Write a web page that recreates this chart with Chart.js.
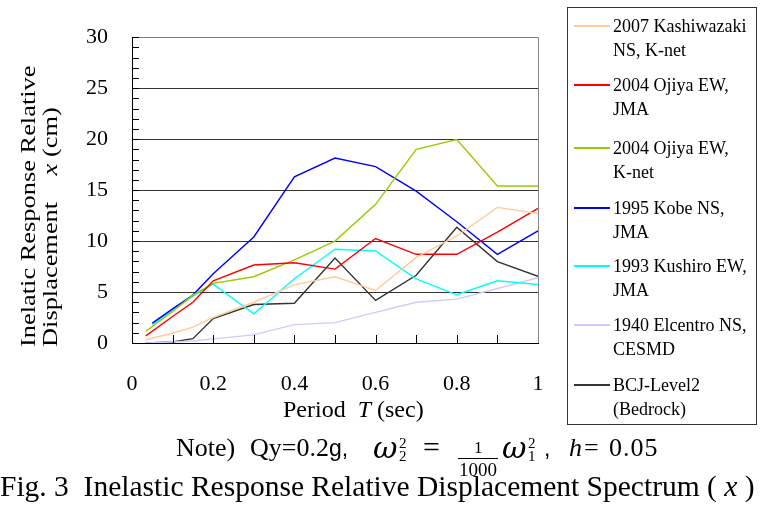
<!DOCTYPE html>
<html>
<head>
<meta charset="utf-8">
<script src="https://cdn.jsdelivr.net/npm/chart.js@4.4.0/dist/chart.umd.min.js"></script>
<style>
  body { margin: 0; background: #fff; font-family: "Liberation Serif", "Times New Roman", serif; color: #000; }
  #wrap { position: relative; width: 762px; height: 507px; overflow: hidden; }
  #chartBox { position: absolute; left: 0; top: 0; width: 762px; height: 507px; }
  #legend { position: absolute; left: 567px; top: 7px; width: 190px; height: 418px; border: 1px solid #333; box-sizing: border-box; }
  .item { position: absolute; left: 0; width: 190px; }
  .item .swatch { position: absolute; left: 6px; width: 36px; height: 1.5px; }
  .item .txt { position: absolute; left: 45px; font-size: 18px; line-height: 24px; white-space: nowrap; }
  #ytitle { position: absolute; left: 17px; top: 347px; width: 320px; font-size: 22px; line-height: 22px;
            transform-origin: 0 0; transform: rotate(-90deg) scale(1.2, 1); white-space: pre; }
  #xtitle { position: absolute; left: 283px; top: 397px; font-size: 24px; line-height: 1; white-space: pre; }
  .p { position: absolute; line-height: 1; white-space: pre; }
  .sans { font-family: "Liberation Sans", Arial, sans-serif; }
  .omega { font-family: "DejaVu Serif", serif; font-style: italic; }
  #bar { position: absolute; left: 458px; top: 458px; width: 40px; height: 1px; background: #000; }
  #fig { position: absolute; left: 0; top: 472px; font-size: 29.5px; line-height: 1; white-space: pre; }
</style>
</head>
<body>
<div id="wrap">
  <div id="chartBox"><canvas id="spectrumChart"></canvas></div>
  <div id="ytitle">Inelatic Response Relative
Displacement    <i>x</i> (cm)</div>
  <div id="xtitle">Period  <i>T</i> (sec)</div>
  <div id="legend"></div>

  <!-- Note) Qy=0.2g, w2^2 = 1/1000 w1^2, h=0.05 -->
  <span class="p" style="left:176px;top:435px;font-size:26px">Note)</span>
  <span class="p" style="left:250px;top:435px;font-size:26px">Qy=0.2<span class="sans" style="font-size:23px">g,</span></span>
  <span class="p omega" style="left:373px;top:433px;font-size:30px">ω</span>
  <span class="p" style="left:399px;top:436px;font-size:15px">2</span>
  <span class="p" style="left:399px;top:449px;font-size:15px">2</span>
  <span class="p" style="left:423px;top:432px;font-size:30px">=</span>
  <span class="p" style="left:474px;top:439px;font-size:17px">1</span>
  <div id="bar"></div>
  <span class="p" style="left:459px;top:460px;font-size:19px">1000</span>
  <span class="p omega" style="left:502px;top:433px;font-size:30px">ω</span>
  <span class="p" style="left:528px;top:436px;font-size:15px">2</span>
  <span class="p" style="left:528px;top:449px;font-size:15px">1</span>
  <span class="p sans" style="left:544px;top:437px;font-size:23px">,</span>
  <span class="p" style="left:569px;top:435px;font-size:26px"><i>h</i></span>
  <span class="p" style="left:584px;top:435px;font-size:26px">=</span>
  <span class="p" style="left:609px;top:435px;font-size:26px;letter-spacing:1px">0.05</span>

  <div id="fig">Fig. 3  Inelastic Response Relative Displacement Spectrum ( <i>x</i> )</div>
</div>

<script>
// periods (sec) - most records start at 0.034, Kobe / Kushiro at 0.05
const periodsA = [0.034, 0.1, 0.15, 0.2, 0.3, 0.4, 0.5, 0.6, 0.7, 0.8, 0.9, 1.0];
const periodsB = [0.05, 0.1, 0.15, 0.2, 0.3, 0.4, 0.5, 0.6, 0.7, 0.8, 0.9, 1.0];

// displacement (cm)
const kashiwazaki = [0.32, 0.96, 1.55, 2.5, 4.0, 5.7, 6.5, 5.15, 8.4, 10.5, 13.3, 12.7];
const ojiyaJMA    = [0.7, 2.6, 4.0, 6.1, 7.65, 7.87, 7.25, 10.25, 8.7, 8.7, 10.87, 13.2];
const ojiyaKnet   = [1.15, 3.1, 4.7, 5.85, 6.5, 8.15, 10.0, 13.6, 19.0, 19.95, 15.4, 15.4];
const kobe        = [1.95, 3.35, 4.7, 6.8, 10.4, 16.3, 18.15, 17.3, 14.9, 11.9, 8.7, 11.0];
const kushiro     = [1.8, 3.2, 4.6, 5.78, 2.87, 6.3, 9.2, 9.03, 6.3, 4.73, 6.1, 5.74];
const elcentro    = [0, 0.1, 0.2, 0.4, 0.8, 1.8, 2.0, 3.0, 4.0, 4.3, 5.35, 6.4];
const bcjLevel2   = [0, 0.1, 0.42, 2.4, 3.77, 3.9, 8.33, 4.18, 6.64, 11.36, 7.98, 6.54];

const xTicks = [0, 0.2, 0.4, 0.6, 0.8, 1];
const yTicks = [0, 5, 10, 15, 20, 25, 30];

const series = [
  { label: ["2007 Kashiwazaki", "NS, K-net"], x: periodsA, y: kashiwazaki, color: "#ffcc99", top: 13 },
  { label: ["2004 Ojiya EW,", "JMA"], x: periodsA, y: ojiyaJMA, color: "#ff0000", top: 72 },
  { label: ["2004 Ojiya EW,", "K-net"], x: periodsA, y: ojiyaKnet, color: "#99cc00", top: 135 },
  { label: ["1995 Kobe NS,", "JMA"], x: periodsB, y: kobe, color: "#0000ff", top: 195 },
  { label: ["1993 Kushiro EW,", "JMA"], x: periodsB, y: kushiro, color: "#00ffff", top: 253 },
  { label: ["1940   Elcentro NS,", "CESMD"], x: periodsA, y: elcentro, color: "#ccccff", top: 312 },
  { label: ["BCJ-Level2", "(Bedrock)"], x: periodsA, y: bcjLevel2, color: "#333333", top: 372 }
];

// legend box (html so the two-line labels sit like the original)
const legend = document.getElementById("legend");
series.forEach(s => {
  const item = document.createElement("div");
  item.className = "item";
  item.style.top = (s.top - 7) + "px";
  item.innerHTML = '<div class="swatch" style="top:11px;background:' + s.color + '"></div>' +
                   '<div class="txt">' + s.label[0] + '<br>' + s.label[1] + '</div>';
  legend.appendChild(item);
});

// inside tick marks + gray right border
const tickMarks = {
  id: "tickMarks",
  afterDraw(chart) {
    const ctx = chart.ctx;
    const a = chart.chartArea;
    const xs = chart.scales.x, ys = chart.scales.y;
    ctx.save();
    ctx.strokeStyle = "#000";
    ctx.lineWidth = 1;
    ctx.beginPath();
    for (let v = 0; v <= 30; v++) {
      const py = Math.round(ys.getPixelForValue(v)) + 0.5;
      ctx.moveTo(a.left, py);
      ctx.lineTo(a.left + 7, py);
    }
    for (let i = 1; i < 10; i++) {
      const px = Math.round(xs.getPixelForValue(i / 10)) + 0.5;
      ctx.moveTo(px, a.bottom);
      ctx.lineTo(px, a.bottom - 8);
    }
    ctx.stroke();
    ctx.strokeStyle = "#888";
    ctx.beginPath();
    ctx.moveTo(a.right + 0.5, a.top);
    ctx.lineTo(a.right + 0.5, a.bottom);
    ctx.stroke();
    ctx.restore();
  }
};

const ctx = document.getElementById("spectrumChart").getContext("2d");
new Chart(ctx, {
  type: "line",
  data: {
    datasets: series.map(s => ({
      label: s.label.join(" "),
      data: s.x.map((t, i) => ({ x: t, y: s.y[i] })),
      borderColor: s.color,
      backgroundColor: s.color,
      borderWidth: 1.4,
      pointRadius: 0,
      tension: 0,
      fill: false
    }))
  },
  options: {
    responsive: true,
    maintainAspectRatio: false,
    animation: false,
    layout: { padding: { left: 0, top: 29, right: 224, bottom: 0 } },
    plugins: { legend: { display: false }, tooltip: { enabled: false } },
    scales: {
      x: {
        type: "linear",
        min: 0, max: 1,
        afterFit: s => { s.height = 164; },
        afterBuildTicks: s => { s.ticks = xTicks.map(v => ({ value: v })); },
        grid: { display: false, drawTicks: false },
        border: { color: "#000", width: 1 },
        ticks: { color: "#000", padding: 28, maxRotation: 0,
                 callback: v => String(v),
                 font: { family: "Liberation Serif", size: 22 } }
      },
      y: {
        min: 0, max: 30,
        afterFit: s => { s.width = 132; },
        afterBuildTicks: s => { s.ticks = yTicks.map(v => ({ value: v })); },
        grid: { color: ctx => ctx.tick && ctx.tick.value === 30 ? "#808080" : "#333", lineWidth: 1, drawTicks: false },
        border: { color: "#000", width: 1 },
        ticks: { color: "#000", padding: 24,
                 font: { family: "Liberation Serif", size: 22 } }
      }
    }
  },
  plugins: [tickMarks]
});
</script>
</body>
</html>
